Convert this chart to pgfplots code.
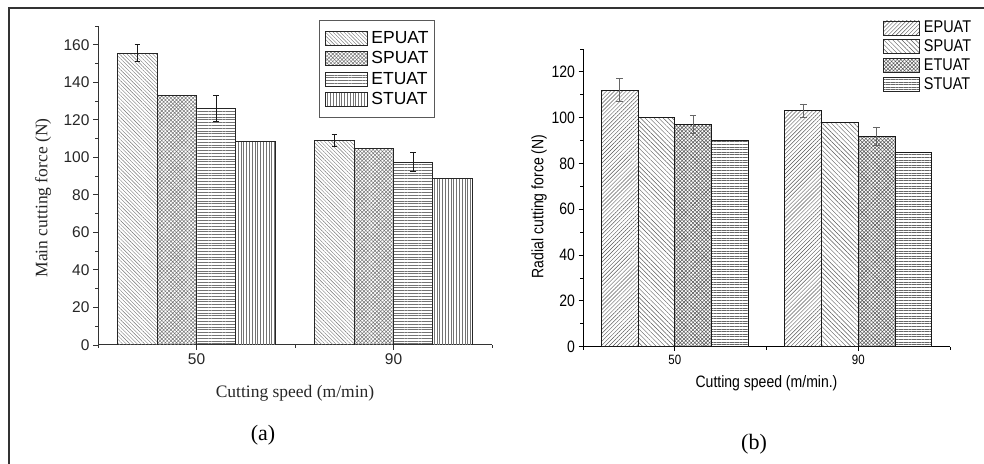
\documentclass[border=0pt]{standalone}
\usepackage{fontspec}
\setmainfont{Liberation Serif}
\newfontfamily\arialf{Liberation Sans}
\newfontfamily\narrowf[FakeStretch=0.85]{Liberation Sans}
\usepackage{pgfplots}
\pgfplotsset{compat=1.18}
\usetikzlibrary{patterns,patterns.meta,calc}

\begin{document}
\begin{tikzpicture}
\useasboundingbox (0,0) rectangle (984bp,464bp);
\draw[line width=1.3bp, black!80] (9bp,0) -- (9bp,456bp) -- (984bp,456bp);

% ---------------- panel (a)
\begin{axis}[
 scale only axis, width=394bp, height=319bp,
 at={(98bp,119bp)}, anchor=south west,
 xmin=-0.5, xmax=1.5, ymin=0, ymax=170,
 axis x line*=bottom, axis y line*=left,
 axis line style={line width=1bp, black!80},
 xtick={0,1}, xticklabels={50,90},
 minor xtick={-0.5,0.5,1.5},
 ytick={0,20,...,160}, minor ytick={10,30,...,170},
 tick align=outside,
 major tick length=5bp, minor tick length=3bp,
 every tick/.style={black!80, line width=0.9bp},
 ticklabel style={font=\arialf\fontsize{15.5bp}{18bp}\selectfont, black!85},
 /pgf/number format/assume math mode=true,
 ylabel={Main cutting force (N)}, xlabel={Cutting speed (m/min)},
 label style={font=\fontsize{17.5bp}{20bp}\selectfont, black!85},
 ylabel style={at={($(rel axis cs:0,0.461)+(-55bp,0)$)}, anchor=center},
 xlabel style={at={($(rel axis cs:0.5,0)+(0,-48bp)$)}, anchor=center},
 ybar, bar width=0.2,
 legend cell align=left,
 legend style={at={(rel axis cs:0.561,1.019)}, anchor=north west,
   draw=black!65, line width=1.2bp, inner xsep=5bp, inner ysep=10bp,
   row sep=4.3bp, /tikz/column sep=3bp,
   nodes={inner sep=1bp, text height=12bp, text depth=2bp},
   font=\arialf\fontsize{17.5bp}{20bp}\selectfont},
 every axis plot post/.append style={
   legend image code/.code={\draw[#1, draw=black!85, line width=0.8bp] (0bp,-7bp) rectangle (42bp,7bp);}},
 error bars/y dir=both, error bars/y explicit,
 error bars/error bar style={black!90, line width=1.1bp},
 error bars/error mark options={black!90, line width=1.1bp, mark size=2.8bp, rotate=90},
]
\addplot[bar shift=-0.3, draw=black!85, line width=0.9bp,
  pattern={Lines[angle=-45,distance=2.6bp,line width=0.4bp]}, pattern color=black!55]
  coordinates {(0,155.5) +- (0,4.5) (1,109) +- (0,3.4)};
\addplot[bar shift=-0.1, draw=black!85, line width=0.9bp,
  pattern={Hatch[angle=45,distance=2.6bp,line width=0.5bp]}, pattern color=black!55]
  coordinates {(0,133) (1,104.5)};
\addplot[bar shift=0.1, draw=black!85, line width=0.9bp,
  pattern={Lines[angle=0,distance=2.8bp,line width=0.5bp]}, pattern color=black!55]
  coordinates {(0,126) +- (0,7) (1,97.5) +- (0,5)};
\addplot[bar shift=0.3, draw=black!85, line width=0.9bp,
  pattern={Lines[angle=90,distance=2.8bp,line width=0.5bp]}, pattern color=black!55]
  coordinates {(0,108.5) (1,88.8)};
\legend{EPUAT,SPUAT,ETUAT,STUAT}
\end{axis}

% ---------------- panel (b)
\begin{axis}[
 scale only axis, width=367bp, height=297.7bp,
 at={(583bp,117.3bp)}, anchor=south west,
 xmin=-0.5, xmax=1.5, ymin=0, ymax=130,
 axis x line*=bottom, axis y line*=left,
 axis line style={line width=1bp, black},
 xtick={0,1}, xticklabels={50,90},
 minor xtick={-0.5,0.5,1.5},
 ytick={0,20,...,120}, minor ytick={10,30,...,130},
 tick align=outside,
 major tick length=4.5bp, minor tick length=3bp,
 every tick/.style={black, line width=0.8bp},
 xticklabel style={font=\narrowf\fontsize{13.5bp}{16bp}\selectfont},
 yticklabel style={font=\narrowf\fontsize{16.5bp}{19bp}\selectfont},
 /pgf/number format/assume math mode=true,
 ylabel={Radial cutting force (N)}, xlabel={Cutting speed (m/min.)},
 label style={font=\narrowf\fontsize{16.5bp}{19bp}\selectfont},
 ylabel style={at={($(rel axis cs:0,0.471)+(-44bp,0)$)}, anchor=center},
 xlabel style={at={($(rel axis cs:0.5,0)+(0,-36.3bp)$)}, anchor=center},
 ybar, bar width=0.2,
 legend cell align=left,
 legend style={at={(rel axis cs:0.8174,1.0984)}, anchor=north west,
   draw=none, fill=none, inner sep=0bp,
   row sep=2.8bp, /tikz/column sep=3bp,
   nodes={inner sep=1bp, text height=12bp, text depth=2bp},
   font=\narrowf\fontsize{17bp}{20bp}\selectfont},
 every axis plot post/.append style={
   legend image code/.code={\draw[#1, draw=black!85, line width=0.8bp] (0bp,-7bp) rectangle (36bp,7bp);}},
 error bars/y dir=both, error bars/y explicit,
 error bars/error bar style={black!60, line width=0.7bp},
 error bars/error mark options={black!60, line width=0.7bp, mark size=3.3bp, rotate=90},
]
\addplot[bar shift=-0.3, draw=black!90, line width=0.8bp,
  pattern={Lines[angle=45,distance=2.8bp,line width=0.45bp]}, pattern color=black!65]
  coordinates {(0,112) +- (0,5) (1,103) +- (0,3)};
\addplot[bar shift=-0.1, draw=black!90, line width=0.8bp,
  pattern={Lines[angle=-45,distance=3.2bp,line width=0.45bp]}, pattern color=black!65]
  coordinates {(0,100) (1,98)};
\addplot[bar shift=0.1, draw=black!90, line width=0.8bp,
  pattern={Hatch[angle=45,distance=2.6bp,line width=0.55bp]}, pattern color=black!65]
  coordinates {(0,97) +- (0,4) (1,92) +- (0,4)};
\addplot[bar shift=0.3, draw=black!90, line width=0.8bp,
  pattern={Lines[angle=0,distance=2.6bp,line width=0.45bp]}, pattern color=black!60]
  coordinates {(0,90) (1,85)};
\legend{EPUAT,SPUAT,ETUAT,STUAT}
\end{axis}

\node[font=\fontsize{22bp}{26bp}\selectfont] at (263bp,29bp) {(a)};
\node[font=\fontsize{22bp}{26bp}\selectfont] at (754bp,20bp) {(b)};
\end{tikzpicture}
\end{document}
